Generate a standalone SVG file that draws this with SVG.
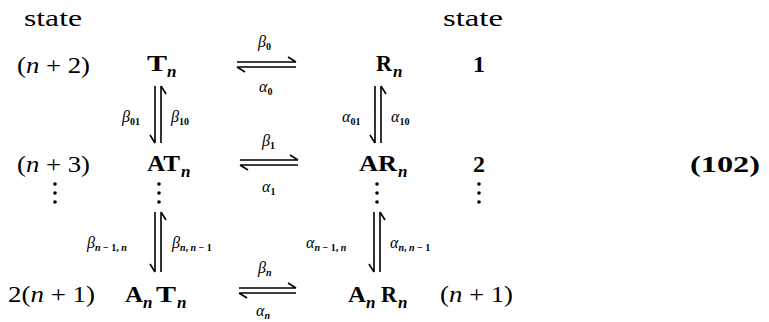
<svg xmlns="http://www.w3.org/2000/svg" width="769" height="322" viewBox="0 0 769 322">
<style>
text{font-family:"Liberation Serif","Times New Roman",serif;fill:#000}
.rm{font-size:24px}
.bf{font-size:24px;font-weight:bold}
.it{font-style:italic}
.sn{font-size:17px;font-style:italic;font-weight:bold}
.gk{font-size:16px;font-style:italic}
.gs{font-size:10px;font-weight:bold;font-style:normal}
.gi{font-size:10px;font-weight:bold;font-style:italic}
.ln{stroke:#000;stroke-width:1.6;fill:none}
.dot{fill:#000}
</style>
<rect width="769" height="322" fill="#fff"/>

<g id="headers">
<text class="rm" x="24" y="26" textLength="58" lengthAdjust="spacingAndGlyphs">state</text>
<text class="rm" x="443" y="26" textLength="60" lengthAdjust="spacingAndGlyphs">state</text>
</g>

<g id="left-states">
<text class="rm" x="17" y="73" textLength="73" lengthAdjust="spacingAndGlyphs">(<tspan class="it">n</tspan> + 2)</text>
<text class="rm" x="17" y="172" textLength="73" lengthAdjust="spacingAndGlyphs">(<tspan class="it">n</tspan> + 3)</text>
<circle class="dot" cx="55" cy="184" r="1.8"/><circle class="dot" cx="55" cy="193" r="1.8"/><circle class="dot" cx="55" cy="202" r="1.8"/>
<text class="rm" x="8" y="302" textLength="87" lengthAdjust="spacingAndGlyphs">2(<tspan class="it">n</tspan> + 1)</text>
</g>

<g id="node-Tn">
<text class="bf" x="147" y="71" textLength="20" lengthAdjust="spacingAndGlyphs">T</text>
<text class="sn" x="167" y="77">n</text>
</g>
<g id="node-Rn">
<text class="bf" x="376" y="71" textLength="16" lengthAdjust="spacingAndGlyphs">R</text>
<text class="sn" x="393" y="77">n</text>
</g>
<g id="node-ATn">
<text class="bf" x="147" y="171" textLength="33" lengthAdjust="spacingAndGlyphs">AT</text>
<text class="sn" x="181" y="177">n</text>
<circle class="dot" cx="159" cy="184" r="1.8"/><circle class="dot" cx="159" cy="193" r="1.8"/><circle class="dot" cx="159" cy="202" r="1.8"/>
</g>
<g id="node-ARn">
<text class="bf" x="359" y="171" textLength="38" lengthAdjust="spacingAndGlyphs">AR</text>
<text class="sn" x="398" y="177">n</text>
<circle class="dot" cx="377" cy="184" r="1.8"/><circle class="dot" cx="377" cy="193" r="1.8"/><circle class="dot" cx="377" cy="202" r="1.8"/>
</g>
<g id="node-AnTn">
<text class="bf" x="125" y="302" textLength="18" lengthAdjust="spacingAndGlyphs">A</text>
<text class="sn" x="143" y="308">n</text>
<text class="bf" x="156" y="302" textLength="20" lengthAdjust="spacingAndGlyphs">T</text>
<text class="sn" x="177" y="308">n</text>
</g>
<g id="node-AnRn">
<text class="bf" x="348" y="302" textLength="18" lengthAdjust="spacingAndGlyphs">A</text>
<text class="sn" x="366" y="308">n</text>
<text class="bf" x="381" y="302" textLength="16" lengthAdjust="spacingAndGlyphs">R</text>
<text class="sn" x="398" y="308">n</text>
</g>

<g id="right-states">
<text class="bf" x="473" y="72">1</text>
<text class="bf" x="473" y="172">2</text>
<circle class="dot" cx="479" cy="184" r="1.8"/><circle class="dot" cx="479" cy="193" r="1.8"/><circle class="dot" cx="479" cy="202" r="1.8"/>
<text class="rm" x="440" y="302" textLength="73" lengthAdjust="spacingAndGlyphs">(<tspan class="it">n</tspan> + 1)</text>
</g>

<g id="eq-number">
<text class="bf" x="690" y="172" textLength="70" lengthAdjust="spacingAndGlyphs">(102)</text>
</g>

<g id="connectors">
<path class="ln" d="M237 62 H296 M296 62 L288 57"/>
<path class="ln" d="M237 67 H296 M237 67 L245 72"/>
<text class="gk" x="258" y="47">β<tspan class="gs" dy="3">0</tspan></text>
<text class="gk" x="259" y="92">α<tspan class="gs" dy="3">0</tspan></text>

<path class="ln" d="M240 160 H298 M298 160 L290 155"/>
<path class="ln" d="M240 165 H298 M240 165 L248 170"/>
<text class="gk" x="262" y="146">β<tspan class="gs" dy="3">1</tspan></text>
<text class="gk" x="262" y="192">α<tspan class="gs" dy="3">1</tspan></text>

<path class="ln" d="M239 288 H296 M296 288 L288 283"/>
<path class="ln" d="M239 293 H296 M239 293 L247 298"/>
<text class="gk" x="258" y="273">β<tspan class="gi" dy="3">n</tspan></text>
<text class="gk" x="256" y="316">α<tspan class="gi" dy="3">n</tspan></text>

<path class="ln" d="M155 86 V143 M155 143 L150 135"/>
<path class="ln" d="M161 86 V143 M161 86 L166 94"/>
<text class="gk" x="122" y="122">β<tspan class="gs" dy="3">01</tspan></text>
<text class="gk" x="171" y="122">β<tspan class="gs" dy="3">10</tspan></text>

<path class="ln" d="M375 86 V143 M375 143 L370 135"/>
<path class="ln" d="M381 86 V143 M381 86 L386 94"/>
<text class="gk" x="342" y="122">α<tspan class="gs" dy="3">01</tspan></text>
<text class="gk" x="391" y="122">α<tspan class="gs" dy="3">10</tspan></text>

<path class="ln" d="M155 212 V272 M155 272 L150 264"/>
<path class="ln" d="M161 212 V272 M161 212 L166 220"/>
<text class="gk" x="87" y="248">β<tspan class="gi" dy="3">n</tspan><tspan class="gs"> − 1, </tspan><tspan class="gi">n</tspan></text>
<text class="gk" x="172" y="248">β<tspan class="gi" dy="3">n</tspan><tspan class="gs">, </tspan><tspan class="gi">n</tspan><tspan class="gs"> − 1</tspan></text>

<path class="ln" d="M374 212 V272 M374 272 L369 264"/>
<path class="ln" d="M380 212 V272 M380 212 L385 220"/>
<text class="gk" x="306" y="248">α<tspan class="gi" dy="3">n</tspan><tspan class="gs"> − 1, </tspan><tspan class="gi">n</tspan></text>
<text class="gk" x="390" y="248">α<tspan class="gi" dy="3">n</tspan><tspan class="gs">, </tspan><tspan class="gi">n</tspan><tspan class="gs"> − 1</tspan></text>
</g>
</svg>
